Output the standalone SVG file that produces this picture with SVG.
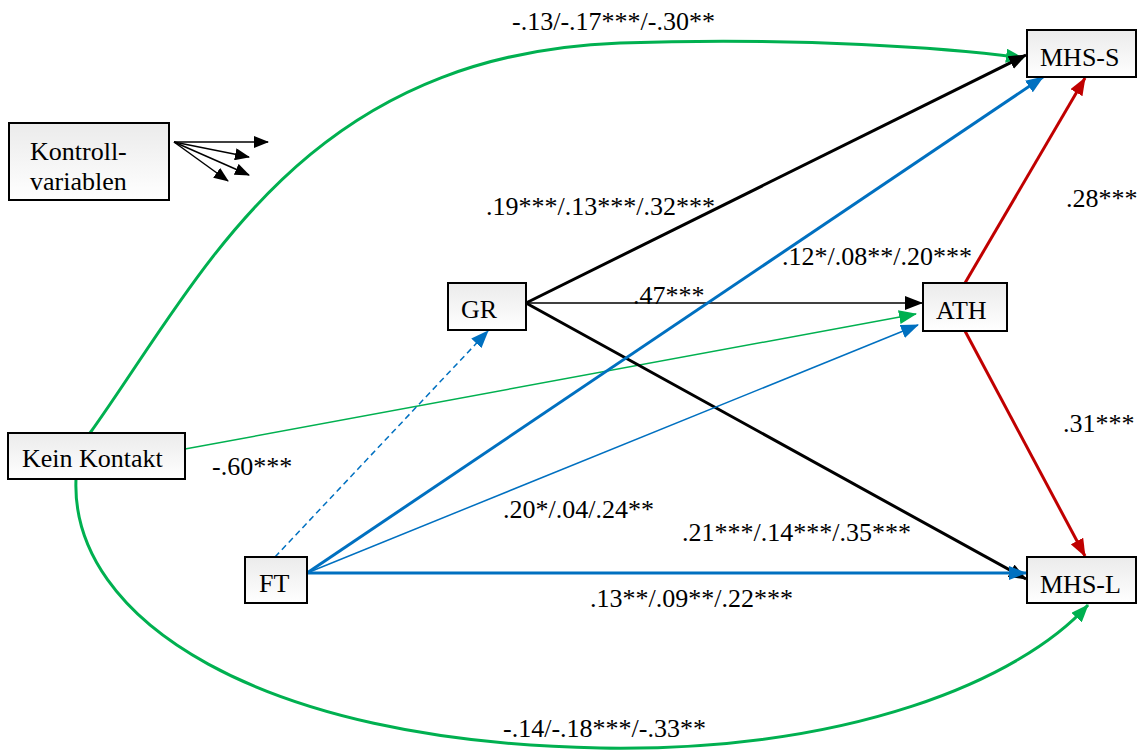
<svg xmlns="http://www.w3.org/2000/svg" width="1137" height="751" viewBox="0 0 1137 751">
  <defs>
    <linearGradient id="boxFill" x1="0" y1="0" x2="0" y2="1">
      <stop offset="0" stop-color="#ebebeb"/>
      <stop offset="1" stop-color="#ffffff"/>
    </linearGradient>
    <marker id="ahBlack" markerUnits="userSpaceOnUse" markerWidth="18" markerHeight="14" viewBox="0 0 18 14" refX="17" refY="7" orient="auto">
      <path d="M0,0 L18,7 L0,14 Z" fill="#000"/>
    </marker>
    <marker id="ahBlackS" markerUnits="userSpaceOnUse" markerWidth="15" markerHeight="12" viewBox="0 0 15 12" refX="14" refY="6" orient="auto">
      <path d="M0,0 L15,6 L0,12 Z" fill="#000"/>
    </marker>
    <marker id="ahGreen" markerUnits="userSpaceOnUse" markerWidth="18" markerHeight="14" viewBox="0 0 18 14" refX="17" refY="7" orient="auto">
      <path d="M0,0 L18,7 L0,14 Z" fill="#00b050"/>
    </marker>
    <marker id="ahBlue" markerUnits="userSpaceOnUse" markerWidth="18" markerHeight="14" viewBox="0 0 18 14" refX="17" refY="7" orient="auto">
      <path d="M0,0 L18,7 L0,14 Z" fill="#0070c0"/>
    </marker>
    <marker id="ahRed" markerUnits="userSpaceOnUse" markerWidth="18" markerHeight="14" viewBox="0 0 18 14" refX="17" refY="7" orient="auto">
      <path d="M0,0 L18,7 L0,14 Z" fill="#c00000"/>
    </marker>
  </defs>
  <style>
    .box { fill: url(#boxFill); stroke: #000; stroke-width: 2; }
    .lbl { font-family: "Liberation Serif", "Times New Roman", serif; font-size: 26px; fill: #000; }
    .edge { fill: none; }
    .k { stroke: #000; }
    .g { stroke: #00b050; }
    .b { stroke: #0070c0; }
    .r { stroke: #c00000; }
  </style>
  <rect width="1137" height="751" fill="#fff"/>

  <g id="connectors">
    <!-- Kein Kontakt: curved paths to both outcomes, straight path to ATH -->
    <path class="edge g" stroke-width="3" d="M90,433 C200,280 300,55 620,43 C800,37 950,48 1023,58" marker-end="url(#ahGreen)"/>
    <path class="edge g" stroke-width="3" d="M76,479 C70,620 260,742 600,748 C850,752 1020,680 1088,605" marker-end="url(#ahGreen)"/>
    <path class="edge g" stroke-width="1.5" d="M185,449 L916,314" marker-end="url(#ahGreen)"/>

    <!-- GR -->
    <path class="edge k" stroke-width="1.5" d="M526,303 L922,303" marker-end="url(#ahBlack)"/>
    <path class="edge k" stroke-width="3" d="M526,303 L1026,55" marker-end="url(#ahBlack)"/>
    <path class="edge k" stroke-width="3" d="M526,303 L1026,579" marker-end="url(#ahBlack)"/>

    <!-- FT -->
    <path class="edge b" stroke-width="1.5" stroke-dasharray="6,4" d="M275,557 L488,331" marker-end="url(#ahBlue)"/>
    <path class="edge b" stroke-width="3" d="M307,573 L1043,77" marker-end="url(#ahBlue)"/>
    <path class="edge b" stroke-width="1.5" d="M307,573 L918,325" marker-end="url(#ahBlue)"/>
    <path class="edge b" stroke-width="3" d="M307,573 L1026,573" marker-end="url(#ahBlue)"/>

    <!-- ATH -->
    <path class="edge r" stroke-width="3" d="M965,283 L1085,78" marker-end="url(#ahRed)"/>
    <path class="edge r" stroke-width="3" d="M965,331 L1085,556" marker-end="url(#ahRed)"/>

    <!-- control variables fan -->
    <path class="edge k" stroke-width="1.5" d="M174,142 L268,142" marker-end="url(#ahBlackS)"/>
    <path class="edge k" stroke-width="1.5" d="M174,142 L249,157" marker-end="url(#ahBlackS)"/>
    <path class="edge k" stroke-width="1.5" d="M174,142 L249,175" marker-end="url(#ahBlackS)"/>
    <path class="edge k" stroke-width="1.5" d="M174,142 L228,181" marker-end="url(#ahBlackS)"/>
  </g>

  <g id="node-kontrollvariablen">
    <rect class="box" x="9" y="123" width="160" height="77"/>
    <text class="lbl" x="30" y="160">Kontroll-</text>
    <text class="lbl" x="30" y="190">variablen</text>
  </g>
  <g id="node-mhs-s">
    <rect class="box" x="1027" y="30" width="109" height="47"/>
    <text class="lbl" x="1040" y="66">MHS-S</text>
  </g>
  <g id="node-gr">
    <rect class="box" x="448" y="283" width="78" height="47"/>
    <text class="lbl" x="461" y="318">GR</text>
  </g>
  <g id="node-ath">
    <rect class="box" x="923" y="283" width="84" height="48"/>
    <text class="lbl" x="936" y="319">ATH</text>
  </g>
  <g id="node-kein-kontakt">
    <rect class="box" x="8" y="433" width="177" height="46"/>
    <text class="lbl" x="22" y="467">Kein Kontakt</text>
  </g>
  <g id="node-ft">
    <rect class="box" x="245" y="557" width="62" height="46"/>
    <text class="lbl" x="259" y="592">FT</text>
  </g>
  <g id="node-mhs-l">
    <rect class="box" x="1027" y="557" width="109" height="46"/>
    <text class="lbl" x="1040" y="593">MHS-L</text>
  </g>

  <g id="edge-labels">
    <text class="lbl" x="512" y="30">-.13/-.17***/-.30**</text>
    <text class="lbl" x="486" y="215">.19***/.13***/.32***</text>
    <text class="lbl" x="782" y="265">.12*/.08**/.20***</text>
    <text class="lbl" x="633" y="304">.47***</text>
    <text class="lbl" x="1066" y="207">.28***</text>
    <text class="lbl" x="1063" y="432">.31***</text>
    <text class="lbl" x="212" y="475">-.60***</text>
    <text class="lbl" x="503" y="518">.20*/.04/.24**</text>
    <text class="lbl" x="682" y="541">.21***/.14***/.35***</text>
    <text class="lbl" x="590" y="607">.13**/.09**/.22***</text>
    <text class="lbl" x="503" y="737">-.14/-.18***/-.33**</text>
  </g>
</svg>
